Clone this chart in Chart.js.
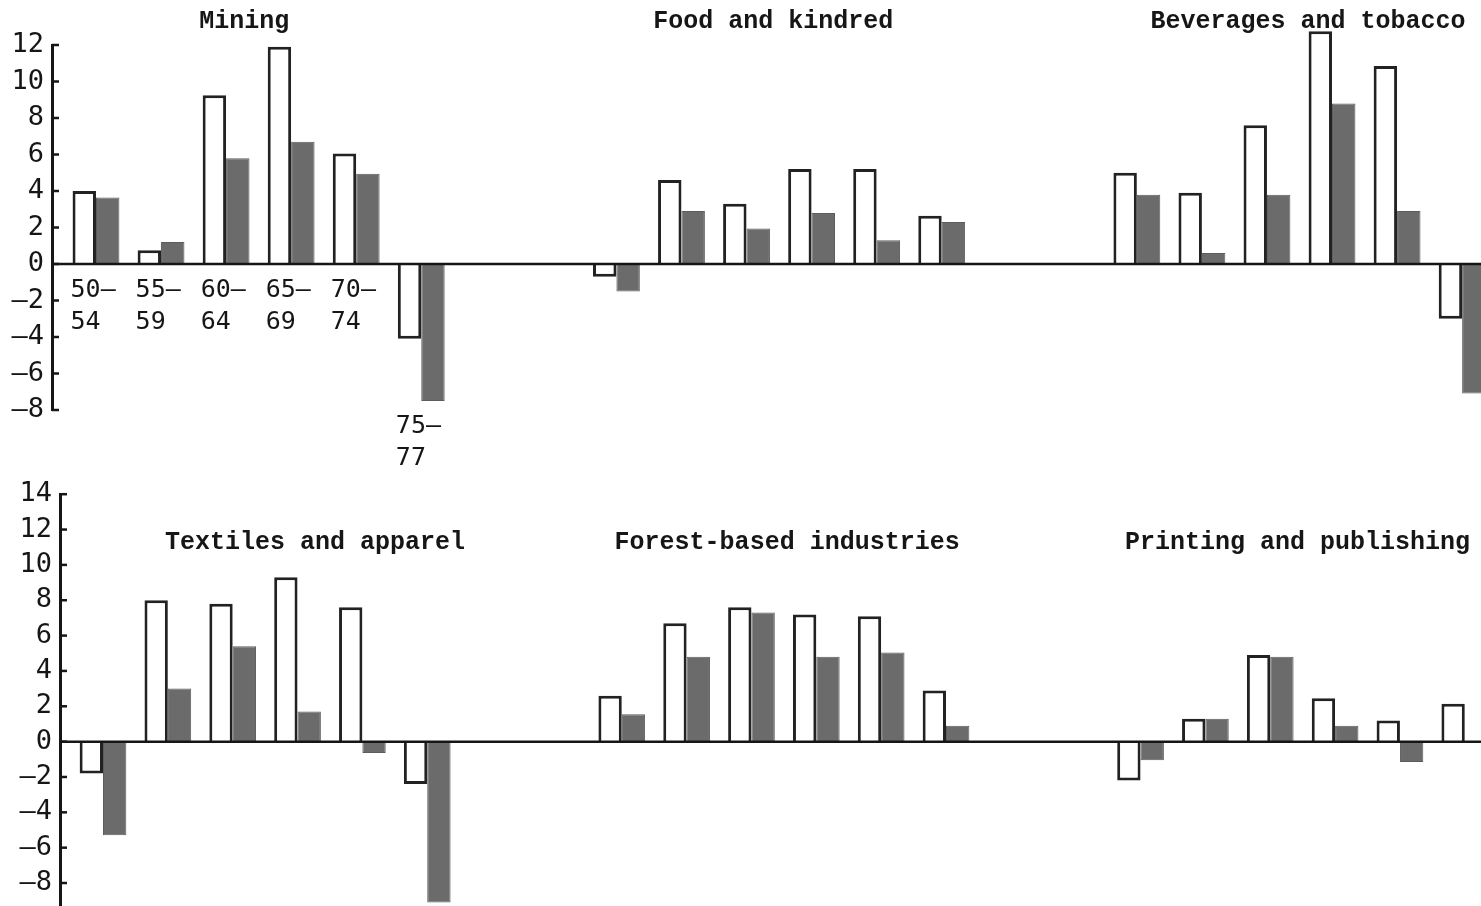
<!DOCTYPE html>
<html>
<head>
<meta charset="utf-8">
<script src="https://cdn.jsdelivr.net/npm/chart.js@4.4.1/dist/chart.umd.min.js"></script>
<style>
    html, body { margin: 0; padding: 0; background: #fff; overflow: hidden; }
    #wrap { position: relative; width: 1481px; height: 906px; overflow: hidden; }
    canvas { position: absolute; left: 0; }
    #topRow { top: 0; }
    #bottomRow { top: 470px; }
</style>
</head>
<body>
<div id="wrap">
    <canvas id="topRow" width="1481" height="480"></canvas>
    <canvas id="bottomRow" width="1481" height="480"></canvas>
</div>
<script>
// periods (same for every panel)
const periods = ['50–54', '55–59', '60–64', '65–69', '70–74', '75–77'];

// top row
const topTitles = ['Mining', 'Food and kindred', 'Beverages and tobacco'];
const miningOpen = [4.0, 0.75, 9.25, 11.9, 6.05, -4.1];
const miningShaded = [3.65, 1.2, 5.8, 6.7, 4.95, -7.5];
const foodOpen = [-0.7, 4.6, 3.3, 5.2, 5.2, 2.65];
const foodShaded = [-1.5, 2.9, 1.95, 2.8, 1.3, 2.3];
const bevOpen = [5.0, 3.9, 7.6, 12.75, 10.85, -3.0];
const bevShaded = [3.8, 0.6, 3.8, 8.8, 2.9, -7.1];
const topTicks = [-8, -6, -4, -2, 0, 2, 4, 6, 8, 10, 12];

// bottom row
const bottomTitles = ['Textiles and apparel', 'Forest-based industries', 'Printing and publishing'];
const textilesOpen = [-1.8, 8.0, 7.8, 9.3, 7.6, -2.4];
const textilesShaded = [-5.3, 3.0, 5.4, 1.7, -0.65, -9.1];
const forestOpen = [2.6, 6.7, 7.6, 7.2, 7.1, 2.9];
const forestShaded = [1.55, 4.8, 7.3, 4.8, 5.05, 0.9];
const printingOpen = [-2.2, 1.3, 4.9, 2.45, 1.2, 2.15];
const printingShaded = [-1.05, 1.3, 4.8, 0.9, -1.15, 0];
const bottomTicks = [-8, -6, -4, -2, 0, 2, 4, 6, 8, 10, 12, 14];

const slotStep = 8; // 6 periods + 2 empty slots between panels
const ink = '#161616';

// turn a panel list into {x: slot, y: value} points
function toPoints(panels) {
    let pts = [];
    panels.forEach((vals, p) => {
        vals.forEach((v, i) => pts.push({x: p * slotStep + i, y: v}));
    });
    return pts;
}

const dashed = v => v < 0 ? '–' + Math.abs(v) : String(v);

// axis ticks (inward), zero line, panel titles, period labels
const rowMarks = {
    id: 'rowMarks',
    afterDatasetsDraw(chart, args, opts) {
        const ctx = chart.ctx;
        const xs = chart.scales.x, ys = chart.scales.y, area = chart.chartArea;
        ctx.save();
        ctx.strokeStyle = ink;
        ctx.lineWidth = 2.5;
        ys.ticks.forEach(t => {
            const py = ys.getPixelForValue(t.value);
            ctx.beginPath();
            ctx.moveTo(area.left, py);
            ctx.lineTo(area.left + 7, py);
            ctx.stroke();
        });
        const y0 = ys.getPixelForValue(0);
        ctx.beginPath();
        ctx.moveTo(area.left, y0);
        ctx.lineTo(area.right, y0);
        ctx.stroke();

        ctx.fillStyle = ink;
        ctx.font = 'bold 25px "Liberation Mono"';
        ctx.textAlign = 'center';
        ctx.textBaseline = 'middle';
        opts.titles.forEach((t, p) => {
            ctx.fillText(t, xs.getPixelForValue(p * slotStep + opts.titleSlots[p]), opts.titleY);
        });

        if (opts.showPeriods) {
            const open = chart.getDatasetMeta(0).data;
            const openVals = chart.data.datasets[0].data;
            const shadedVals = chart.data.datasets[1].data;
            ctx.font = '25px "DejaVu Sans Mono"';
            ctx.textAlign = 'left';
            periods.forEach((per, i) => {
                const bar = open[i];
                const low = Math.min(openVals[i].y, shadedVals[i].y, 0);
                const top = ys.getPixelForValue(low);
                const parts = per.split('–');
                const lx = bar.x - bar.width / 2 - 2;
                ctx.fillText(parts[0] + '–', lx, top + 26);
                ctx.fillText(parts[1], lx, top + 58);
            });
        }
        ctx.restore();
    }
};

function makeRow(id, openPanels, shadedPanels, ticks, cfg) {
    const ctx = document.getElementById(id).getContext('2d');
    const openPts = toPoints(openPanels);
    const slots = openPts.map(p => p.x);
    return new Chart(ctx, {
        type: 'bar',
        data: {
            datasets: [{
                label: 'open',
                data: openPts,
                backgroundColor: '#ffffff',
                borderColor: '#222222',
                borderWidth: 3,
                clip: false
            }, {
                label: 'shaded',
                data: toPoints(shadedPanels),
                backgroundColor: '#6b6b6b',
                borderColor: '#5c5c5c',
                borderWidth: 1,
                clip: false
            }]
        },
        options: {
            responsive: false,
            animation: false,
            devicePixelRatio: 1,
            categoryPercentage: 0.72,
            barPercentage: 1,
            layout: {padding: cfg.padding},
            plugins: {
                legend: {display: false},
                tooltip: {enabled: false},
                rowMarks: {titles: cfg.titles, titleSlots: cfg.titleSlots, titleY: cfg.titleY, showPeriods: cfg.showPeriods}
            },
            scales: {
                x: {
                    type: 'linear',
                    display: false,
                    offset: false,
                    min: cfg.xMin,
                    max: cfg.xMax,
                    afterBuildTicks: s => { s.ticks = slots.map(v => ({value: v})); }
                },
                y: {
                    min: cfg.yMin,
                    max: cfg.yMax,
                    afterBuildTicks: s => { s.ticks = ticks.map(v => ({value: v})); },
                    afterFit: s => { s.width = cfg.axisX; },
                    grid: {display: false, drawTicks: false},
                    border: {display: true, color: ink, width: 3},
                    ticks: {
                        color: ink,
                        padding: 8,
                        font: {family: 'DejaVu Sans Mono', size: 27},
                        callback: v => dashed(v)
                    }
                }
            }
        },
        plugins: [rowMarks]
    });
}

makeRow('topRow', [miningOpen, foodOpen, bevOpen], [miningShaded, foodShaded, bevShaded], topTicks, {
    padding: {top: 45, bottom: 70, left: 0, right: 0},
    xMin: -0.676, xMax: 21.29, yMin: -8, yMax: 12, axisX: 52,
    titles: topTitles, titleSlots: [2.28, 2.41, 2.63], titleY: 22, showPeriods: true
});

makeRow('bottomRow', [textilesOpen, forestOpen, printingOpen], [textilesShaded, forestShaded, printingShaded], bottomTicks, {
    padding: {top: 21, bottom: 44, left: 0, right: 0},
    xMin: -0.663, xMax: 21.25, yMin: -9.3, yMax: 14, axisX: 60,
    titles: bottomTitles, titleSlots: [3.27, 2.55, 2.42], titleY: 73, showPeriods: false
});
</script>
</body>
</html>
